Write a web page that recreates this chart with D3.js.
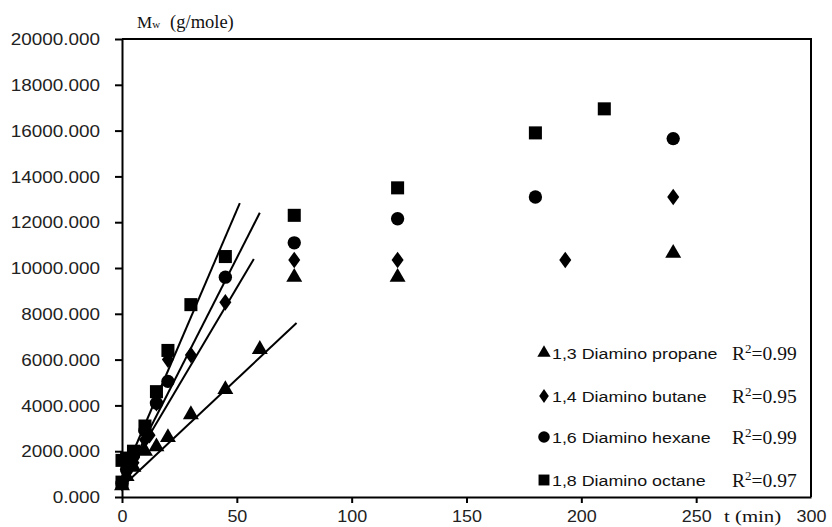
<!DOCTYPE html>
<html>
<head>
<meta charset="utf-8">
<script src="https://cdn.jsdelivr.net/npm/d3@7"></script>
<style>
  body { margin: 0; background: #fff; }
  svg { display: block; }
  .tick text { font-family: "Liberation Sans", Arial, sans-serif; font-size: 16px; fill: #222; }
</style>
</head>
<body>
<svg id="chart"></svg>
<script>
// series names + r^2 labels
var names = ["1,3 Diamino propane", "1,4 Diamino butane", "1,6 Diamino hexane", "1,8 Diamino octane"];
var r2 = ["0.99", "0.95", "0.99", "0.97"];
var shapes = ["triangle", "diamond", "circle", "square"];

// measured points (t in min, Mw in g/mole)
var propaneT = [0, 2, 5, 10, 15, 20, 30, 45, 60, 75, 120, 240];
var propaneMw = [500, 900, 1300, 2000, 2200, 2600, 3600, 4700, 6450, 9600, 9600, 10650];
var butaneT = [0, 2, 5, 10, 12, 15, 20, 30, 45, 75, 120, 193, 240];
var butaneMw = [600, 1100, 1500, 2500, 2700, 4100, 6000, 6200, 8500, 10350, 10350, 10350, 13100];
var hexaneT = [0, 2, 5, 10, 15, 20, 45, 75, 120, 180, 240];
var hexaneMw = [600, 1200, 1800, 2900, 4100, 5050, 9600, 11100, 12150, 13100, 15650];
var octaneT = [0, 0, 2, 5, 10, 15, 20, 30, 45, 75, 120, 180, 210];
var octaneMw = [650, 1600, 1700, 2000, 3100, 4600, 6400, 8400, 10500, 12300, 13500, 15900, 16950];

// linear fits over the early part
var fitSlope = [94, 169, 197, 234];
var fitIntercept = [450, 690, 590, 830];
var fitEnd = [76, 57.4, 60, 51.3];

var xTicks = [0, 50, 100, 150, 200, 250, 300];
var yTicks = [0, 2000, 4000, 6000, 8000, 10000, 12000, 14000, 16000, 18000, 20000];

var width = 832, height = 527;
var margin = {left: 122, right: 21, top: 39, bottom: 30};

var svg = d3.select("#chart").attr("width", width).attr("height", height);

var x = d3.scaleLinear().domain([0, 300]).range([margin.left, width - margin.right]);
var y = d3.scaleLinear().domain([0, 20000]).range([height - margin.bottom, margin.top]);

var series = [
    {t: propaneT, v: propaneMw},
    {t: butaneT, v: butaneMw},
    {t: hexaneT, v: hexaneMw},
    {t: octaneT, v: octaneMw}
];

// the original labels are drawn a bit wider than the font
function stretch(sel, f) {
    sel.each(function() {
        var l = this.getComputedTextLength();
        d3.select(this).attr("textLength", l * f).attr("lengthAdjust", "spacingAndGlyphs");
    });
}

// frame (top + right)
svg.append("path")
    .attr("d", "M" + x(0) + "," + y(20000) + "H" + x(300) + "V" + y(0))
    .attr("fill", "none").attr("stroke", "#000").attr("stroke-width", 2);

var xAxis = svg.append("g")
    .attr("transform", "translate(0," + y(0) + ")")
    .call(d3.axisBottom(x).tickValues(xTicks).tickSize(6).tickSizeOuter(0).tickPadding(8));
xAxis.select(".domain").attr("stroke-width", 2);
xAxis.selectAll(".tick line").attr("stroke-width", 2);
xAxis.selectAll(".tick").filter(function(d) { return d == 300; }).select("line").remove();
stretch(xAxis.selectAll(".tick text"), 1.12);

var yAxis = svg.append("g")
    .attr("transform", "translate(" + x(0) + ",0)")
    .call(d3.axisLeft(y).tickValues(yTicks).tickSize(7).tickSizeOuter(0).tickPadding(15)
        .tickFormat(function(d) { return d3.format(".3f")(d); }));
yAxis.select(".domain").attr("stroke-width", 2);
yAxis.selectAll(".tick line").attr("stroke-width", 2);
yAxis.selectAll(".tick text").attr("dy", "0.36em");
stretch(yAxis.selectAll(".tick text"), 1.18);

// fit lines
svg.append("g").selectAll("line")
    .data(fitSlope)
    .enter().append("line")
    .attr("x1", function(d, i) { return x(0); })
    .attr("y1", function(d, i) { return y(fitIntercept[i]); })
    .attr("x2", function(d, i) { return x(fitEnd[i]); })
    .attr("y2", function(d, i) { return y(fitIntercept[i] + d * fitEnd[i]); })
    .attr("stroke", "#000").attr("stroke-width", 2);

var symType = {
    triangle: d3.symbolTriangle,
    diamond: d3.symbolDiamond,
    circle: d3.symbolCircle,
    square: d3.symbolSquare
};
var symSize = {triangle: 110, diamond: 80, circle: 140, square: 170};

function marker(shape, scale) {
    return d3.symbol().type(symType[shape]).size(symSize[shape] * (scale || 1))();
}

series.forEach(function(s, i) {
    svg.append("g").selectAll("path")
        .data(s.t)
        .enter().append("path")
        .attr("d", marker(shapes[i]))
        .attr("transform", function(d, j) {
            var sy = shapes[i] == "diamond" ? " scale(1.25,1)" : "";
            return "translate(" + x(d) + "," + y(s.v[j]) + ")" + sy;
        })
        .attr("fill", "#000");
});

// legend
svg.append("clipPath").attr("id", "legclip")
    .append("rect").attr("x", 530).attr("y", 330).attr("width", 189).attr("height", 170);

var legY = [353, 396, 437, 480];
var leg = svg.append("g");
names.forEach(function(n, i) {
    var sc = shapes[i] == "circle" ? 0.75 : 0.7;
    leg.append("path")
        .attr("d", marker(shapes[i], sc))
        .attr("transform", "translate(" + 544 + "," + legY[i] + ")" + (shapes[i] == "diamond" ? " scale(1.2,1)" : ""))
        .attr("fill", "#000");
    var lt = leg.append("text")
        .attr("x", 552).attr("y", legY[i] + 5.5)
        .attr("clip-path", "url(#legclip)")
        .style("font-family", "'Liberation Sans', Arial, sans-serif")
        .style("font-size", "15.5px")
        .attr("fill", "#111")
        .text(n);
    stretch(lt, 1.15);
    var t = leg.append("text")
        .attr("x", 732).attr("y", legY[i] + 7)
        .style("font-family", "'Liberation Serif', 'Times New Roman', serif")
        .style("font-size", "19.5px")
        .attr("fill", "#111");
    t.append("tspan").text("R");
    t.append("tspan").attr("dy", -7).style("font-size", "13px").text("2");
    t.append("tspan").attr("dy", 7).text("=" + r2[i]);
});

// axis titles
var yt = svg.append("text")
    .attr("x", 137).attr("y", 28)
    .style("font-family", "'Liberation Serif', 'Times New Roman', serif")
    .attr("fill", "#111");
yt.append("tspan").style("font-size", "17px").text("M");
yt.append("tspan").style("font-size", "11px").text("w");
yt.append("tspan").attr("dx", 10).style("font-size", "18.5px").text("(g/mole)");

var xt = svg.append("text")
    .attr("x", 724).attr("y", 522)
    .style("font-family", "'Liberation Serif', 'Times New Roman', serif")
    .style("font-size", "16px")
    .attr("fill", "#111")
    .text("t (min)");
stretch(xt, 1.3);
</script>
</body>
</html>
